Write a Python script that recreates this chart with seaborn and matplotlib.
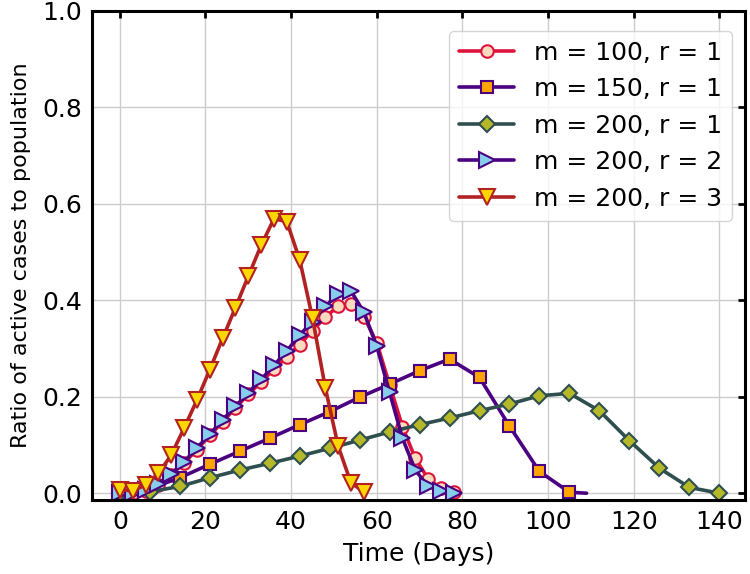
import matplotlib
matplotlib.use('Agg')
import matplotlib.pyplot as plt
import seaborn as sns
import numpy as np
import pandas as pd

# m = 100, r = 1 (markers every 3 days)
days_m100 = list(range(0, 79, 3))
ratio_m100 = [0.0, 0.001, 0.005, 0.018, 0.038, 0.063, 0.090, 0.120, 0.148, 0.177,
              0.205, 0.231, 0.257, 0.283, 0.308, 0.337, 0.365, 0.388, 0.393, 0.366,
              0.312, 0.225, 0.138, 0.072, 0.030, 0.010, 0.003]

# m = 150, r = 1 (markers every 7 days, line runs on to day 109)
days_m150 = list(range(0, 106, 7)) + [109]
ratio_m150 = [0.0, 0.010, 0.032, 0.060, 0.087, 0.114, 0.142, 0.169, 0.199, 0.226,
              0.254, 0.278, 0.240, 0.139, 0.045, 0.002, 0.0]

# m = 200, r = 1 (markers every 7 days)
days_m200_r1 = list(range(0, 141, 7))
ratio_m200_r1 = [0.0, 0.003, 0.014, 0.032, 0.048, 0.062, 0.077, 0.093, 0.110, 0.127,
                 0.142, 0.156, 0.171, 0.185, 0.202, 0.207, 0.171, 0.109, 0.052, 0.012,
                 0.0]

# m = 200, r = 2 (markers every 3 days)
days_m200_r2 = list(range(0, 79, 3))
ratio_m200_r2 = [0.0, 0.001, 0.006, 0.020, 0.040, 0.065, 0.094, 0.122, 0.152, 0.180,
                 0.208, 0.236, 0.265, 0.295, 0.328, 0.356, 0.388, 0.412, 0.419, 0.375,
                 0.305, 0.209, 0.114, 0.048, 0.014, 0.004, 0.0]

# m = 200, r = 3 (markers every 3 days)
days_m200_r3 = list(range(0, 58, 3))
ratio_m200_r3 = [0.007, 0.005, 0.017, 0.041, 0.079, 0.135, 0.193, 0.256, 0.321, 0.385,
                 0.450, 0.514, 0.569, 0.563, 0.484, 0.363, 0.218, 0.097, 0.021, 0.003]

labels = ['m = 100, r = 1', 'm = 150, r = 1', 'm = 200, r = 1',
          'm = 200, r = 2', 'm = 200, r = 3']

series = [
    (days_m100, ratio_m100, 'o', 'crimson', '#FADBC0', None),
    (days_m150, ratio_m150, 's', 'indigo', 'orange', list(range(len(days_m150) - 1))),
    (days_m200_r1, ratio_m200_r1, 'D', 'darkslategray', '#B5B829', None),
    (days_m200_r2, ratio_m200_r2, '>', 'indigo', 'skyblue', None),
    (days_m200_r3, ratio_m200_r3, 'v', 'firebrick', 'gold', None),
]
marker_sizes = {'o': 9, 's': 8.5, 'D': 8.5, '>': 11, 'v': 11}

sns.set_style('whitegrid', {'grid.color': '#cccccc', 'axes.edgecolor': 'black'})
plt.rcParams['font.family'] = ['DejaVu Sans']
plt.rcParams['text.color'] = 'black'
plt.rcParams['axes.labelcolor'] = 'black'

fig = plt.figure(figsize=(7.5, 5.74), dpi=100)
ax = fig.add_axes([0.1227, 0.129, 0.8706, 0.852])

for (x, y, mk, lc, fc, me), lab in zip(series, labels):
    df = pd.DataFrame({'Time': x, 'Ratio': y})
    kw = {}
    if me is not None:
        kw['markevery'] = me
    sns.lineplot(data=df, x='Time', y='Ratio', ax=ax, color=lc, linewidth=2.6,
                 marker=mk, markersize=marker_sizes[mk], markerfacecolor=fc,
                 markeredgecolor=lc, markeredgewidth=1.5, label=lab, **kw)

ax.set_xlim(-6.5, 146)
ax.set_ylim(-0.014, 1.0)
ax.set_xticks(np.arange(0, 141, 20))
ax.set_yticks(np.arange(0, 1.01, 0.2))
ax.set_xlabel('Time (Days)', fontsize=18, labelpad=6)
ax.set_ylabel('Ratio of active cases to population', fontsize=16, labelpad=8)
ax.tick_params(direction='in', length=5, width=2, top=True, right=True,
               labelsize=18, pad=7, colors='black')
for sp in ax.spines.values():
    sp.set_linewidth(2.2)
    sp.set_color('black')
ax.grid(True, color='#cccccc', linewidth=1)

ax.legend(loc='upper right', fontsize=18, handlelength=2.2, frameon=True,
          framealpha=0.8, borderpad=0.4, labelspacing=0.5,
          bbox_to_anchor=(1.0, 0.985))

fig.savefig('out.png', dpi=100)
